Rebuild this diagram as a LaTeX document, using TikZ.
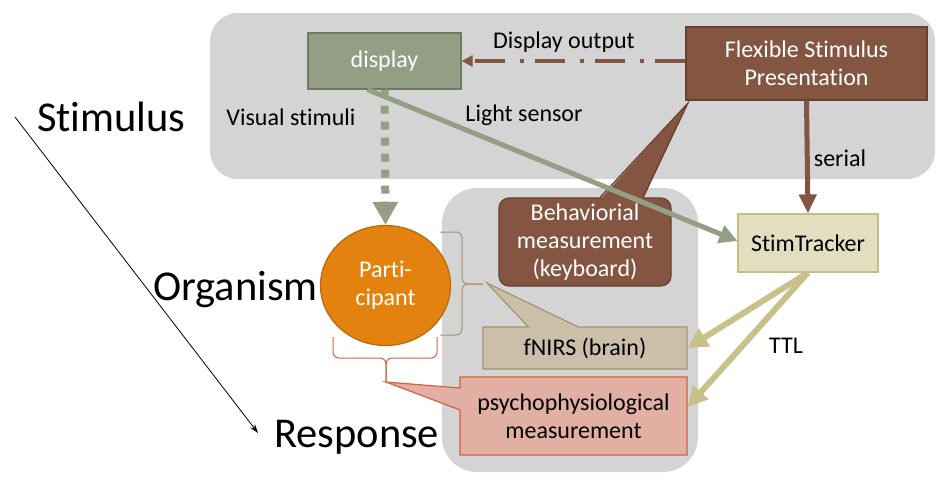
\documentclass[tikz,border=0pt]{standalone}
\usepackage{fontspec}
\setmainfont{Carlito}[Ligatures=NoCommon]
\usetikzlibrary{arrows.meta, shapes.geometric, shapes.callouts}
\definecolor{areagray}{HTML}{D4D4D4}
\definecolor{dispgreen}{HTML}{939E84}
\definecolor{displine}{HTML}{6E7A62}
\definecolor{fspbrown}{HTML}{845541}
\definecolor{fspline}{HTML}{6A3F2D}
\definecolor{trackfill}{HTML}{E2DEBF}
\definecolor{trackline}{HTML}{C5BE7E}
\definecolor{ttlcol}{HTML}{C8C28A}
\definecolor{partorange}{HTML}{E4820F}
\definecolor{partline}{HTML}{B8670A}
\definecolor{nirsfill}{HTML}{CBBFAA}
\definecolor{nirsline}{HTML}{A69470}
\definecolor{psyfill}{HTML}{E2AFA3}
\definecolor{psyline}{HTML}{D2613F}

\begin{document}
\begin{tikzpicture}[x=1pt,y=-1pt,
    every node/.style={font=\fontsize{24}{28}\selectfont, inner sep=0pt},
    sor/.style={font=\fontsize{42.5}{48}\selectfont, anchor=base west},
    box/.style={draw, line width=1.2pt, align=center},
    bracket/.style={line width=1pt, rounded corners=6pt}
  ]
  \useasboundingbox (0,0) rectangle (952,496);
  % grey areas
  \fill[areagray, rounded corners=28pt] (210,13) rectangle (935,179);
  \fill[areagray, rounded corners=35pt] (442,188) rectangle (698,472);

  % boxes
  \node[box, fill=dispgreen, draw=displine, text=white, minimum width=153pt, minimum height=56pt] (disp) at (384.5,61) {display};
  \node[box, fill=fspbrown, draw=fspline, text=white, minimum width=241pt, minimum height=73pt] (fsp) at (806.5,63.5) {Flexible Stimulus\\Presentation};
  \node[box, fill=trackfill, draw=trackline, minimum width=140pt, minimum height=58pt] (stim) at (808,243) {StimTracker};
  \node[box, ellipse, fill=partorange, draw=partline, text=white, minimum width=130pt, minimum height=120pt] (part) at (385.5,285.5) {Parti-\\cipant};
  \node[box, rounded corners=10pt, fill=fspbrown, draw=fspline, text=white, minimum width=172pt, minimum height=88pt] (behav) at (585,242) {Behaviorial\\measurement\\(keyboard)};
  \fill[fspbrown] ([xshift=15pt,yshift=-2pt]behav.north) -- (688,103) -- ([xshift=58pt,yshift=-2pt]behav.north) -- cycle;
  \draw[fspline, line width=1.2pt] ([xshift=15pt]behav.north) -- (688,103) -- ([xshift=58pt]behav.north);
  \node[box, rectangle callout, callout absolute pointer={(487,283)}, callout pointer width=50pt, fill=nirsfill, draw=nirsline, minimum width=204pt, minimum height=42pt] (fnirs) at (585,348) {fNIRS (brain)};
  \node[box, rectangle callout, callout absolute pointer={(386,382)}, callout pointer width=22pt, fill=psyfill, draw=psyline, minimum width=227pt, minimum height=78pt] (psych) at (573.5,416) {psychophysiological\\measurement};

  % braces
  \draw[bracket, nirsline] (440,232) -- (462,232) -- (462,284) -- (483,284);
  \draw[bracket, nirsline] (440,335) -- (462,335) -- (462,284) -- (483,284);
  \draw[bracket, psyline] (333,337) -- (333,358) -- (386,358) -- (386,382);
  \draw[bracket, psyline] (437,337) -- (437,358) -- (386,358) -- (386,382);

  % labels
  \node (dispout) at (564,42) {Display output};
  \node (vis) at (291,117) {Visual stimuli};
  \node (light) at (524,115) {Light sensor};
  \node (serial) at (840,158) {serial};
  \node (ttl) at (786,346) {TTL};
  \node[sor] (stimulus) at (37,131) {Stimulus};
  \node[sor] (organism) at (153,300) {Organism};
  \node[sor] (response) at (274,447) {Response};

  % connectors
  \draw[fspbrown, line width=4pt, dash pattern=on 30pt off 11pt on 4pt off 15pt,
    -{Triangle[width=11pt,length=11pt]}] (fsp.west |- disp.east) -- (disp.east);
  \draw[dispgreen, line width=8pt, dash pattern=on 8pt off 8pt,
    -{Triangle[width=24pt,length=23pt]}] (disp.south) -- (part.north);
  \draw[dispgreen, line width=5pt, -{Triangle[width=18pt,length=18pt]}] ([xshift=-17pt]disp.south) -- ([yshift=2pt]stim.west);
  \draw[fspbrown, line width=5pt, -{Triangle[width=17pt,length=19pt]}] (fsp.south) -- (stim.north);
  \draw[ttlcol, line width=6pt, -{Triangle[width=20pt,length=20pt]}] (stim.south) -- (fnirs.east);
  \draw[ttlcol, line width=6pt, -{Triangle[width=20pt,length=20pt]}] (stim.south) -- ([yshift=9pt]psych.east);
  \coordinate (sorstart) at (15,117);
  \coordinate (sorend) at (258,433);
  \draw[line width=0.8pt, -{Stealth[length=9pt,width=6pt]}] (sorstart) -- (sorend);
\end{tikzpicture}
\end{document}
